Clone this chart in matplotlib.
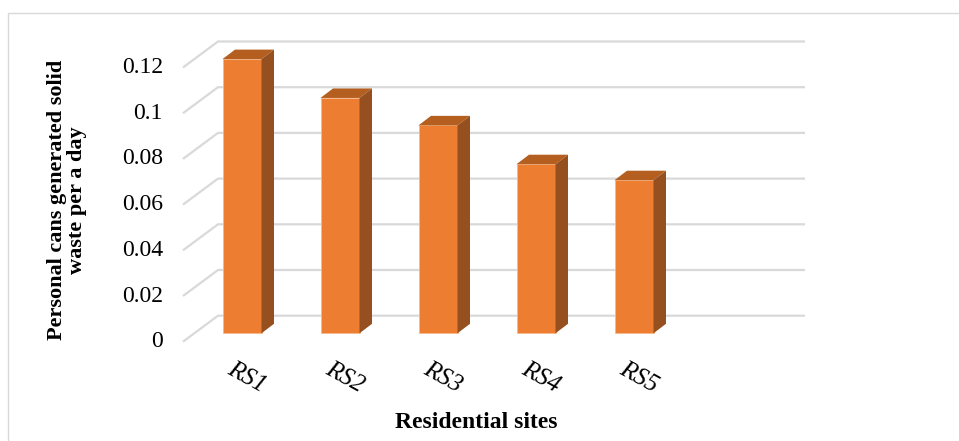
import matplotlib.pyplot as plt
from matplotlib.patches import Polygon, Rectangle

# Solid waste from personal cans, per site and day
sites = ['RS1', 'RS2', 'RS3', 'RS4', 'RS5']
waste = [0.120, 0.103, 0.091, 0.074, 0.067]
yticks = [0, 0.02, 0.04, 0.06, 0.08, 0.10, 0.12]
ytick_labels = ['0', '0.02', '0.04', '0.06', '0.08', '0.1', '0.12']

W, H = 959, 441
fig = plt.figure(figsize=(W / 100, H / 100), dpi=100)
ax = fig.add_axes([0, 0, 1, 1])
ax.axis('off')

# layout in pixels: first bar centre, bar spacing, bar base row, px per unit
x0_px, slot_px = 242, 98
base_px, unit_px = 333.3, 2285
ax.set_xlim(-x0_px / slot_px, (W - x0_px) / slot_px)
ax.set_ylim((base_px - H) / unit_px, base_px / unit_px)


def dx(px):
    return px / slot_px


def dy(px):
    return px / unit_px


serif = 'Liberation Serif'
front_col, top_col, side_col = '#ED7D31', '#B45E1F', '#96501F'
grid_col = '#D9D9D9'

# walls: side-wall diagonals plus back-wall horizontals
front_drop = dy(8.4)
wall_dx, wall_dy = dx(35), dy(26)
x_front = dx(183 - x0_px)
x_back_end = dx(805 - x0_px)
for t, lab in zip(yticks, ytick_labels):
    yf = t - front_drop
    ax.plot([x_front, x_front + wall_dx, x_back_end],
            [yf, yf + wall_dy, yf + wall_dy],
            color=grid_col, lw=1.6, zorder=1, solid_capstyle='butt')
    ax.text(dx(163 - x0_px), yf, lab, ha='right', va='center',
            fontsize=17, family=serif, color='#000000')

# 3D-looking columns
xs = list(range(len(sites)))
bw = dx(39)
depth_x, depth_y = dx(12.5), dy(9.5)
ax.bar(xs, waste, width=bw, color=front_col, edgecolor='#F6B98C',
       linewidth=0.6, zorder=3)
for x, v in zip(xs, waste):
    l, r = x - bw / 2, x + bw / 2
    ax.add_patch(Polygon([(l, v), (l + depth_x, v + depth_y),
                          (r + depth_x, v + depth_y), (r, v)],
                         closed=True, facecolor=top_col, edgecolor='none',
                         zorder=3))
    ax.add_patch(Polygon([(r, 0), (r + depth_x, depth_y),
                          (r + depth_x, v + depth_y), (r, v)],
                         closed=True, facecolor=side_col, edgecolor='none',
                         zorder=3))

# category labels under the floor
for x, s in zip(xs, sites):
    ax.text(x + dx(5), -dy(44), s, rotation=-29, ha='center', va='center',
            rotation_mode='anchor', fontsize=18, style='italic', family=serif)

fig.text(476 / W, 1 - 422 / H, 'Residential sites', ha='center', va='center',
         fontsize=17, fontweight='bold', family=serif)
fig.text(67 / W, 1 - 200 / H, 'Personal cans generated solid\nwaste per a day',
         rotation=90, ha='center', va='center', multialignment='center',
         linespacing=1.0, fontsize=16, fontweight='bold', family=serif)

# chart area border
fig.add_artist(Rectangle((8 / W, -0.1), 1.1, 1.1 - 13 / H,
                         transform=fig.transFigure, facecolor='none',
                         edgecolor=grid_col, lw=1))

fig.savefig('out.png', dpi=100)
